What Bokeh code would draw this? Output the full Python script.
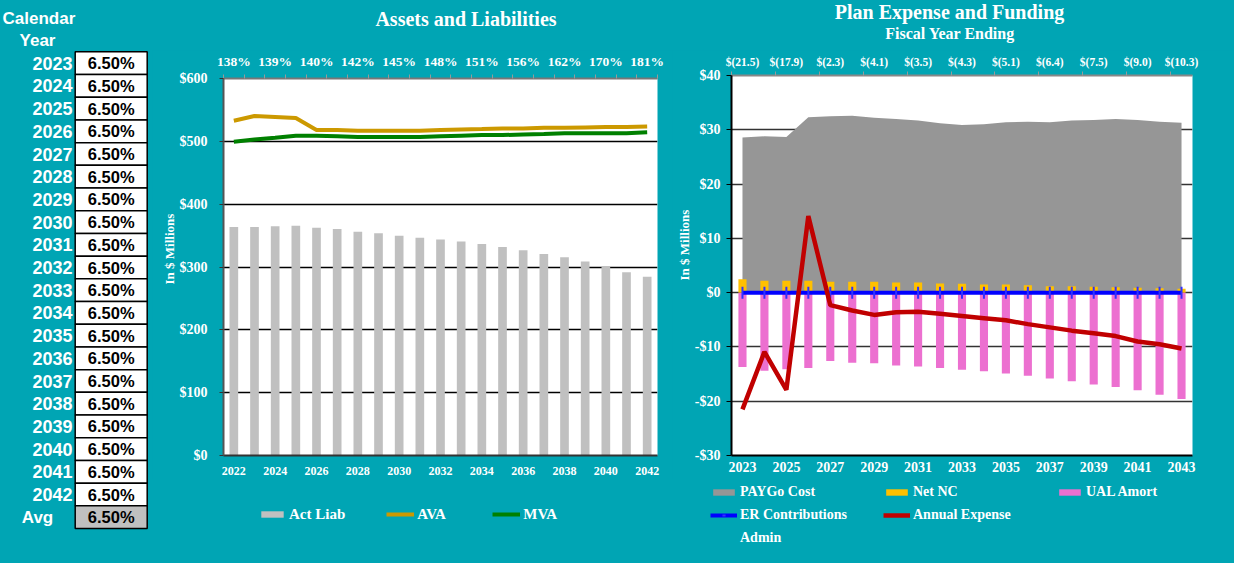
import math
from bokeh.plotting import figure
from bokeh.layouts import row, column
from bokeh.models import (Range1d, FixedTicker, LinearAxis, Title, Legend, LegendItem,
                          ColumnDataSource)
from bokeh.core.properties import value
from bokeh.embed import file_html
from bokeh.resources import INLINE

TEAL = "#00A5B4"
SERIF = "Liberation Serif"
SANS = "Liberation Sans"

# ---------------- data ----------------
table_years = list(range(2023, 2043))
table_rates = [6.50] * 20
table_avg = 6.50

al_years = list(range(2022, 2043))
act_liab = [363.6, 363.6, 364.7, 365.8, 362.6, 360.5, 356.2, 353.6, 349.9, 346.7, 343.6,
            340.4, 336.7, 331.9, 326.6, 320.8, 315.5, 308.7, 301.3, 291.8, 284.4]
ava = [532.8, 540.2, 538.6, 537.0, 518.0, 518.0, 517.0, 517.0, 517.0, 517.0, 518.0,
       519.0, 519.5, 520.6, 520.6, 521.7, 521.7, 522.2, 522.7, 522.7, 523.8]
mva = [499.5, 503.0, 505.8, 509.0, 509.0, 508.0, 507.0, 507.0, 507.0, 507.0, 508.0,
       509.0, 510.0, 510.0, 511.0, 511.6, 512.7, 512.7, 512.7, 513.0, 514.3]
funded_pct = ["138%", "139%", "140%", "142%", "145%", "148%", "151%", "156%", "162%", "170%", "181%"]

pe_years = list(range(2023, 2044))
paygo = [28.6, 28.8, 28.65, 32.3, 32.5, 32.6, 32.2, 32.0, 31.7, 31.2, 30.9,
         31.0, 31.4, 31.5, 31.4, 31.7, 31.8, 32.0, 31.8, 31.5, 31.3]
net_nc = [2.45, 2.2, 2.2, 2.2, 2.0, 2.0, 2.0, 1.85, 1.85, 1.7, 1.65,
          1.5, 1.5, 1.35, 1.2, 1.2, 1.1, 1.0, 0.9, 0.8, 0.7]
ual_amort = [-13.7, -14.4, -14.1, -13.9, -12.6, -12.9, -13.0, -13.4, -13.6, -13.9, -14.2,
             -14.5, -14.9, -15.3, -15.8, -16.3, -16.9, -17.4, -18.0, -18.8, -19.6]
er_contrib = [0.0] * 21
annual_expense = [-21.5, -10.9, -17.9, 14.1, -2.3, -3.3, -4.1, -3.6, -3.5, -3.9, -4.3,
                  -4.7, -5.1, -5.8, -6.4, -7.0, -7.5, -8.0, -9.0, -9.5, -10.3]
admin_x = []
admin_y = []

C_LIAB, C_AVA, C_MVA = "#C0C0C0", "#CC9900", "#008000"
C_PAY, C_NC, C_UAL, C_ER, C_AE = "#969696", "#FFC000", "#EC70D0", "#0000FF", "#C00000"

# ---------------- helpers ----------------
def blank_fig(width, height):
    f = figure(width=width, height=height, x_range=Range1d(0, width), y_range=Range1d(height, 0),
               toolbar_location=None, output_backend="svg", min_border=0,
               x_axis_location=None, y_axis_location=None, title=None,
               background_fill_color=TEAL, border_fill_color=TEAL, outline_line_color=None)
    f.frame_align = False
    f.grid.visible = False
    return f

def style_axis(ax, size):
    ax.major_label_text_color = "white"
    ax.major_label_text_font = SERIF
    ax.major_label_text_font_style = "bold"
    ax.major_label_text_font_size = size

def legend_style(**kw):
    base = dict(orientation="horizontal", padding=0, margin=0,
                border_line_alpha=0, background_fill_alpha=0,
                label_text_color="white", label_text_font=SERIF, label_text_font_style="bold",
                label_standoff=3)
    base.update(kw)
    return base

def title_text(f, x, y, txt, size):
    f.text(x=[x], y=[y], text=[txt], text_font=value(SERIF), text_font_style="bold",
           text_font_size=size, text_color="white", text_align="center", text_baseline="middle")

# legend proxies sit outside the legend-figure ranges, so only their key shows
PX, PY = [-100.0], [-100.0]

# ---------------- table ----------------
t = blank_fig(152, 563)
row_h = 22.7
row_y0 = 62.7
cell_y = [row_y0 + row_h * i for i in range(len(table_years) + 1)]
cell_fill = ["white"] * len(table_years) + ["#C0C0C0"]
cell_txt = ["%.2f%%" % v for v in table_rates] + ["%.2f%%" % table_avg]
src_cells = ColumnDataSource(dict(y=cell_y, fill=cell_fill, txt=cell_txt))
t.rect(x=110.7, y="y", width=72, height=row_h, fill_color="fill", line_color="black",
       line_width=1.5, source=src_cells)
t.text(x=110.7, y="y", text="txt", source=src_cells, text_font=value(SANS),
       text_font_style="bold", text_font_size="16.5px", text_color="black",
       text_align="center", text_baseline="middle")
src_years = ColumnDataSource(dict(y=cell_y[:-1], txt=[str(y) for y in table_years]))
t.text(x=72, y="y", text="txt", source=src_years, text_font=value(SANS),
       text_font_style="bold", text_font_size="18px", text_color="white",
       text_align="right", text_baseline="middle")
t.text(x=[2, 37, 37], y=[18, 40, cell_y[-1]], text=["Calendar", "Year", "Avg"],
       text_font=value(SANS), text_font_style="bold",
       text_font_size="17px", text_color="white", text_align=["left", "center", "center"],
       text_baseline="middle")

# ---------------- assets & liabilities ----------------
tm = blank_fig(520, 50)
title_text(tm, 313.5, 18, "Assets and Liabilities", "20px")

m = figure(width=520, height=428, x_range=Range1d(2021.5, 2042.5), y_range=Range1d(0, 600),
           toolbar_location=None, output_backend="svg", title=None,
           min_border_left=71, min_border_right=15, min_border_top=27, min_border_bottom=23,
           background_fill_color="white", border_fill_color=TEAL, outline_line_color=None)
bars = m.vbar(x=al_years, top=act_liab, width=0.42, fill_color=C_LIAB, line_color=None)
l_ava = m.line(al_years, ava, line_color=C_AVA, line_width=4)
l_mva = m.line(al_years, mva, line_color=C_MVA, line_width=4)

m.xgrid.visible = False
m.ygrid.ticker = FixedTicker(ticks=list(range(0, 601, 100)))
m.ygrid.grid_line_color = "black"
m.ygrid.grid_line_width = 1.3

xa = m.xaxis[0]
xa.ticker = FixedTicker(ticks=al_years[::2])
xa.major_tick_line_color = None
xa.minor_tick_line_color = None
xa.axis_line_color = "#333333"
xa.axis_line_width = 2
xa.major_label_standoff = 5
style_axis(xa, "12px")

ya = m.yaxis[0]
ya.ticker = FixedTicker(ticks=list(range(0, 601, 100)))
ya.major_label_overrides = {v: "$%d" % v for v in range(0, 601, 100)}
ya.axis_line_color = "#555555"
ya.axis_line_width = 2
ya.major_tick_line_color = "#333333"
ya.major_tick_out = 4
ya.major_tick_in = 0
ya.major_label_standoff = 12
style_axis(ya, "14px")

top_m = LinearAxis(ticker=FixedTicker(ticks=al_years[::2],
                                      minor_ticks=[y - 0.5 for y in al_years] + [al_years[-1] + 0.5]))
top_m.major_label_overrides = {y: lbl for y, lbl in zip(al_years[::2], funded_pct)}
top_m.major_tick_line_color = None
top_m.minor_tick_line_color = "#999999"
top_m.minor_tick_out = 4
top_m.minor_tick_in = 0
top_m.axis_line_color = "#777777"
top_m.axis_line_width = 2
top_m.major_label_standoff = 4
style_axis(top_m, "13.5px")
m.add_layout(top_m, "above")
m.add_layout(Title(text="In $ Millions", align="left", offset=171,
                   text_color="white", text_font=SERIF, text_font_style="bold",
                   text_font_size="13px", standoff=0), "left")

lm = blank_fig(520, 85)
d_liab = lm.vbar(x=PX, top=PY, width=0.4, fill_color=C_LIAB, line_color=None)
d_ava = lm.line(x=PX, y=PY, line_color=C_AVA, line_width=4)
d_mva = lm.line(x=PX, y=PY, line_color=C_MVA, line_width=4)
lm.add_layout(Legend(items=[LegendItem(label="Act Liab", renderers=[d_liab]),
                            LegendItem(label="AVA", renderers=[d_ava]),
                            LegendItem(label="MVA", renderers=[d_mva])],
                     location=(106, 39), **legend_style(label_text_font_size="15px",
                     glyph_width=28, glyph_height=8, spacing=41, label_width=34,
                     label_height=20)))

# ---------------- plan expense ----------------
tr = blank_fig(562, 50)
title_text(tr, 277, 11, "Plan Expense and Funding", "20px")
title_text(tr, 277.7, 33, "Fiscal Year Ending", "16px")

r = figure(width=562, height=428, x_range=Range1d(2022.5, 2043.5), y_range=Range1d(-30, 40),
           toolbar_location=None, output_backend="svg", title=None,
           min_border_left=59, min_border_right=42, min_border_top=25, min_border_bottom=23,
           background_fill_color="white", border_fill_color=TEAL, outline_line_color=None)
a_pay = r.varea(x=pe_years, y1=0, y2=paygo, fill_color=C_PAY)
b_nc = r.vbar(x=pe_years, bottom=0, top=net_nc, width=0.37, fill_color=C_NC, line_color=None)
b_ual = r.vbar(x=pe_years, bottom=ual_amort, top=0, width=0.37, fill_color=C_UAL, line_color=None)
l_er = r.line(pe_years, er_contrib, line_color=C_ER, line_width=4)
m_er = r.scatter(pe_years, er_contrib, marker="dash", angle=math.pi / 2, size=12,
                 line_color="#3030FF", line_width=2)
l_ae = r.line(pe_years, annual_expense, line_color=C_AE, line_width=4.5)

yt = list(range(-30, 41, 10))
r.xgrid.visible = False
r.ygrid.ticker = FixedTicker(ticks=yt)
r.ygrid.grid_line_color = "#333333"
r.ygrid.grid_line_width = 1.5

rx = r.xaxis[0]
rx.ticker = FixedTicker(ticks=pe_years[::2])
rx.major_tick_line_color = None
rx.minor_tick_line_color = None
rx.axis_line_color = "black"
rx.axis_line_width = 2
rx.major_label_standoff = 0
style_axis(rx, "14px")

ry = r.yaxis[0]
ry.ticker = FixedTicker(ticks=yt)
ry.major_label_overrides = {v: ("$%d" % v if v >= 0 else "-$%d" % -v) for v in yt}
ry.axis_line_color = "black"
ry.axis_line_width = 2
ry.major_tick_line_color = "black"
ry.major_tick_out = 5
ry.major_tick_in = 0
ry.major_label_standoff = 6
style_axis(ry, "14px")

top_r = LinearAxis(ticker=FixedTicker(ticks=pe_years[::2],
                                      minor_ticks=[y - 0.5 for y in pe_years[::2]]))
top_r.major_label_overrides = {y: ("$(%.1f)" % -v if v < 0 else "$%.1f" % v)
                               for y, v in zip(pe_years[::2], annual_expense[::2])}
top_r.major_tick_line_color = None
top_r.minor_tick_line_color = "#999999"
top_r.minor_tick_out = 4
top_r.minor_tick_in = 0
top_r.axis_line_color = "#888888"
top_r.axis_line_width = 2
top_r.major_label_standoff = 2
style_axis(top_r, "11.5px")
r.add_layout(top_r, "above")
r.add_layout(Title(text="In $ Millions", align="left", offset=175,
                   text_color="white", text_font=SERIF, text_font_style="bold",
                   text_font_size="13px", standoff=0), "left")

lr = blank_fig(562, 85)
e_pay = lr.varea(x=PX, y1=PY, y2=PY, fill_color=C_PAY)
e_nc = lr.vbar(x=PX, top=PY, width=0.4, fill_color=C_NC, line_color=None)
e_ual = lr.vbar(x=PX, top=PY, width=0.4, fill_color=C_UAL, line_color=None)
e_er = lr.line(x=PX, y=PY, line_color=C_ER, line_width=4)
e_erm = lr.scatter(x=PX, y=PY, marker="dash", angle=math.pi / 2, size=12,
                   line_color="#3030FF", line_width=2)
e_ae = lr.line(x=PX, y=PY, line_color=C_AE, line_width=4.5)
e_blank = lr.line(x=PX, y=PY, line_alpha=0)
e_admin = lr.line(x=admin_x, y=admin_y, line_alpha=0)
lr.add_layout(Legend(items=[LegendItem(label="PAYGo Cost", renderers=[e_pay]),
                            LegendItem(label="Net NC", renderers=[e_nc]),
                            LegendItem(label="UAL Amort", renderers=[e_ual]),
                            LegendItem(label="ER Contributions", renderers=[e_er, e_erm]),
                            LegendItem(label="Annual Expense", renderers=[e_ae]),
                            LegendItem(label=" ", renderers=[e_blank]),
                            LegendItem(label="Admin", renderers=[e_admin])],
                     location=(38, 14), ncols=3,
                     **legend_style(label_text_font_size="14px", glyph_width=27, glyph_height=8,
                                    spacing=0, label_width=143, label_height=23)))

layout = row(t, column(tm, m, lm), column(tr, r, lr), styles={"background-color": TEAL})
open("out.html", "w").write(file_html(layout, INLINE))
